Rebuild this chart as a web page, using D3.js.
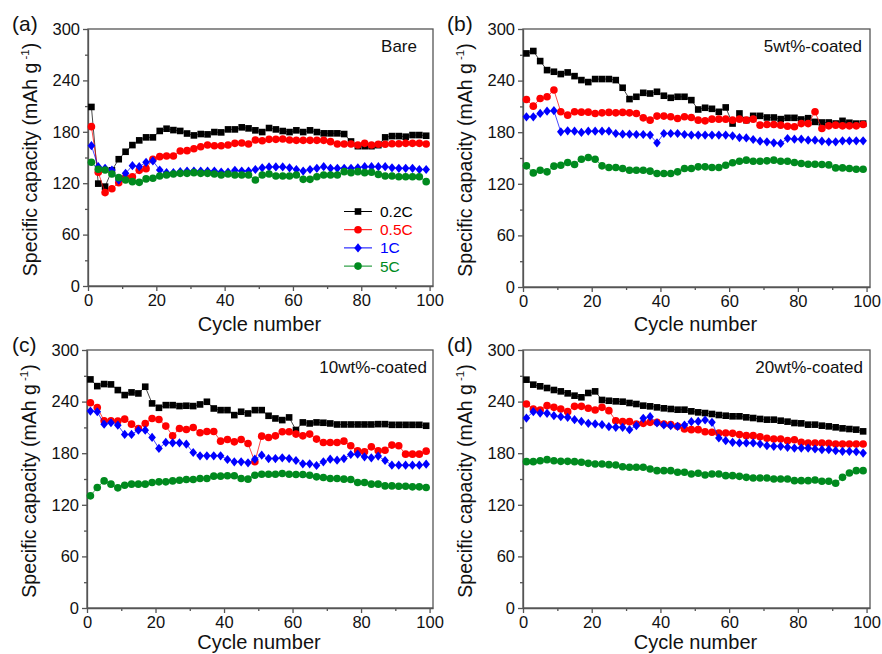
<!DOCTYPE html>
<html><head><meta charset="utf-8">
<script src="https://cdn.jsdelivr.net/npm/d3@7"></script>
<style>
html,body{margin:0;padding:0;background:#fff;}
svg{display:block;font-family:"Liberation Sans",Arial,sans-serif;}
</style></head>
<body><svg id="c" width="882" height="654"></svg>
<script>
// ---------- DATA (markers at odd cycles 1,3,...,99) ----------
const cycles = d3.range(1, 100, 2);
const seriesNames = ["0.2C", "0.5C", "1C", "5C"];
const seriesColors = ["#000000", "#ff0000", "#0000ff", "#008a1e"];
const seriesShapes = ["square", "circle", "diamond", "circle"];
const panelLetters = ["(a)", "(b)", "(c)", "(d)"];
const panelTitles = ["Bare", "5wt%-coated", "10wt%-coated", "20wt%-coated"];
const xTicks = [0, 20, 40, 60, 80, 100];
const yTicks = [0, 60, 120, 180, 240, 300];

const bare_02C = [209,119.5,116,135,148,156.7,164.5,170,173.5,173.5,181,183.6,182,181,178,175.8,177.4,177,179.7,179.3,182.8,182.8,185.2,184,181.7,179.7,184.4,182.8,180.9,179.7,181.7,179.7,181.7,179.7,178.2,178.2,178.2,177.4,168.7,163.2,163.2,163.2,164.4,173.5,175,175,174.3,176.2,176.2,175.4];
const bare_05C = [186,132.7,109,113.5,120.6,127,127.6,135,137,148,151,151.8,151.8,157.6,158,160.3,162.6,164.6,163.8,163.8,164.6,166.5,167,165.8,170.4,169.6,171.2,171.2,171.6,170.4,170,170,170,170,170,168.5,165.8,165.8,165.8,164.6,166.5,164.6,165.4,165.4,166,166,166.5,166.5,166.5,165.8];
const bare_1C = [163.8,139.3,137.4,135.4,123.7,131.5,140.5,139.3,144.4,146,135.4,132.3,132.3,133.5,134.2,134.2,134.2,134.2,134.2,133,133,135,134.2,134.2,136,138,139,139,139,138,136,134.2,136,137.4,139.3,137.4,137.4,137.4,137.4,138,139.3,139.3,139.3,139.3,138,137.4,137.4,137.4,136,136];
const bare_5C = [144.4,136.2,135.4,130.7,126.5,123.7,121.8,121,125,125.7,128.4,129.6,130.7,131.5,131.5,132.3,131.5,131.5,130.7,129.6,130.7,129.6,129.6,129.6,123.7,129.6,130.7,128.4,128.4,128.4,129.6,124.5,124.5,127.6,129.6,129.6,129.6,133.5,132.3,133.5,132.3,132.7,130.3,128.4,128.4,127.6,127.6,127.6,127.6,121.8];

const w5_02C = [271.6,274.4,262.7,252.2,250.3,247.6,249.5,245.2,240.6,238.3,241.8,241.8,241.8,240.6,231.7,218.5,221.2,225.8,225,227,222.4,220,221.2,221.2,217.3,206.4,208.4,207.2,203.7,208.8,190.1,201.8,194,199,199,197.1,197.1,195.2,196.7,196.7,194.8,196.3,192,191.3,191.3,190.1,193.2,191,190,190];
const w5_05C = [218,210.3,219.2,221.2,229,203.7,199.8,203.7,203.3,203.3,201.8,202.5,203,202.5,203,202.5,201.8,196.7,194,198.7,198.7,197.9,196,197.9,197.1,194,193.2,195.2,195.2,195.2,194,195.2,194,195.2,188.2,189,189,188.2,187,186.3,190,190,203.7,184.3,187.4,188.2,187.4,187.4,187.4,189];
const w5_1C = [197.9,197.9,201.8,204.5,205,180.4,181.6,181.2,179.7,181.2,181.2,181.2,181.2,178.5,177.7,177.7,177.3,177.3,176.6,167.6,178.5,178.5,178.5,177.3,176.6,176.6,176.6,176.6,176.6,176.6,175.8,173.8,173.4,171.5,169.6,168.8,167.6,166.9,172.7,171.9,171.9,170.7,170.7,169.6,168.8,168.8,170,170,170,170];
const w5_5C = [140.9,132.7,135.8,133.9,140.5,141.6,144.7,142.4,148.6,150.6,148.6,140.9,138.9,138.9,137.8,135.8,135.8,135.8,134.7,131.9,131.9,131.9,133.9,137.8,137.8,139.7,139.7,138.9,138.9,141.6,144.4,146.3,147.5,146.3,146.3,146.7,147.5,146.3,146.3,144.7,143.6,142.8,142.8,142.4,142,138.5,138.5,137.8,137,137];

const w10_02C = [265.8,258,260.4,260,253.4,247.6,250.7,249.5,257.3,237.9,232.8,235.9,235.9,234.8,235.2,234.8,236.7,239.8,232,230.1,230.1,224.3,228.2,226.2,230.1,230.1,223.5,220.4,218.5,221.6,207,215.8,214.6,215.8,215.4,214.6,213.4,213.4,213.4,213.4,213.4,213.4,213.8,213.8,213,213,213,213,213,211.9];
const w10_05C = [238.6,233.2,217.7,217.7,217.3,219.6,213.8,208.8,214.6,220.4,219.2,211.5,200.2,208.8,207.6,209.9,203.7,205.3,205.3,194,196,193.2,196,191.3,170,199.8,198.3,200.2,204.9,204.9,202.2,200.2,202.2,196.4,192.5,192.5,192.5,194,188.6,182.8,181.6,187.4,182.8,183.5,189.4,188.6,178.9,178.9,178.9,182.4];
const w10_1C = [229,228.2,213.8,215.4,212.6,201.8,201.8,206.8,206.8,198.3,185.5,192.5,192.1,192.1,190.5,180.8,177,177,177,177,172.7,170,170,168.8,173.1,177.7,173.8,173.8,174.6,173.8,171.5,167.6,167.6,165.7,170,173.1,171.9,173.8,178.5,178.9,175.8,174.6,176.6,171.5,166.1,166.1,166.1,166.1,166.1,167.2];
const w10_5C = [130.4,140.1,147.8,144,139.7,142.8,144,144,144,145.9,146.7,146.7,147.8,148.6,149.4,149.4,150.6,150.6,153.3,153.3,153.7,153.7,150.6,149.8,154.4,155.6,155.6,155.6,156.4,155.6,155.2,155.2,154.4,152.5,151.7,150.6,150.6,149.8,149.4,145.9,145.9,144,144,142,142,141.6,141.6,140.9,140.9,140.1];

const w20_02C = [265.5,259.7,257.8,255.8,253.5,251.9,249.6,246.9,245,250,251.9,241.9,241,240.3,239.9,238.4,237.2,235.3,234.5,233.3,232.2,231.4,230.6,230.6,228.7,227.5,226.7,225.6,224.4,223.6,222.9,222.9,221.7,220.9,219.8,219,219,217.8,216.7,215.1,214.7,213.2,213.2,212,211.2,210.1,208.9,208.1,207.4,205.4];
const w20_05C = [237.2,231.4,230.2,235.3,233.3,231.4,228.3,234.5,234.5,232.2,230.2,233.3,229.5,217.8,216.7,216.7,214,214.7,215.9,215.9,214,213.2,211.2,208.1,207.4,207.4,205,204.3,203.5,203.5,203.1,201.6,200.4,200.4,199.2,197.3,196.5,196.5,194.6,195.7,192.6,191.9,191.9,191.9,191.5,190.7,190.7,190.7,190.7,190.7];
const w20_1C = [220.9,228.3,226.7,226.4,223.6,222.5,221.7,219,217,214.7,214,213.2,210.9,210.1,210.1,207.4,212,220.5,222.5,215.1,212.8,212,211.2,212.8,216.7,217,218.6,215.9,197.7,194.6,192.6,191.9,191.9,191.9,190.7,188.8,188,188,186.8,186,186,186,184.9,184.1,184.1,182.9,182.2,182.2,181.8,180.2];
const w20_5C = [170.2,170.2,171.3,172.5,171.3,170.5,170.5,170.2,169.4,168.2,167.4,167.4,166.7,166.3,164.3,163.6,163.6,163.6,161.6,159.7,159.7,159.7,157.8,157.8,155.8,156.6,154.7,155.8,155.8,153.9,153.9,153.1,151.9,151.2,151.2,151.2,150,150,150,148.1,148.1,148.1,148.8,147.3,147.3,145,151.9,157,159.7,159.7];

const panelData = [
  [bare_02C, bare_05C, bare_1C, bare_5C],
  [w5_02C, w5_05C, w5_1C, w5_5C],
  [w10_02C, w10_05C, w10_1C, w10_5C],
  [w20_02C, w20_05C, w20_1C, w20_5C]
];

// ---------- LAYOUT ----------
const panels = [
  {x0: 88, x1: 433, y0: 29, y1: 286, titleX: 417, letterX: 12, xtY: 45},
  {x0: 523, x1: 870, y0: 29, y1: 287, titleX: 862, letterX: 447, xtY: 44},
  {x0: 87, x1: 433, y0: 350, y1: 608, titleX: 427, letterX: 12, xtY: 41},
  {x0: 523, x1: 870, y0: 350, y1: 608, titleX: 863, letterX: 447, xtY: 41}
];

const svg = d3.select("#c");
const axisColor = "#555";

function marker(sel, shape, color) {
  if (shape === "square") {
    sel.append("rect").attr("x", -3.3).attr("y", -3.3).attr("width", 6.6).attr("height", 6.6).attr("fill", color);
  } else if (shape === "circle") {
    sel.append("circle").attr("r", 3.8).attr("fill", color);
  } else {
    sel.append("path").attr("d", "M0,-4.6L3.8,0L0,4.6L-3.8,0Z").attr("fill", color);
  }
}

panels.forEach((p, pi) => {
  const x = d3.scaleLinear().domain([0, 101]).range([p.x0, p.x1]);
  const y = d3.scaleLinear().domain([0, 300]).range([p.y1, p.y0]);
  const g = svg.append("g");

  // frame
  g.append("rect").attr("x", p.x0).attr("y", p.y0).attr("width", p.x1 - p.x0).attr("height", p.y1 - p.y0)
    .attr("fill", "none").attr("stroke", axisColor).attr("stroke-width", 1.3);

  // x axis
  g.append("g").attr("transform", `translate(0,${p.y1})`)
    .call(d3.axisBottom(x).tickValues(xTicks).tickSize(5).tickSizeOuter(0).tickPadding(3).tickFormat(d3.format("d")));
  g.append("g").attr("transform", `translate(0,${p.y1})`)
    .call(d3.axisBottom(x).tickValues([10, 30, 50, 70, 90]).tickSize(3).tickSizeOuter(0).tickFormat(""))
    .call(s => s.select(".domain").remove());
  // y axis
  g.append("g").attr("transform", `translate(${p.x0},0)`)
    .call(d3.axisLeft(y).tickValues(yTicks).tickSize(5).tickSizeOuter(0).tickPadding(3).tickFormat(d3.format("d")));
  g.append("g").attr("transform", `translate(${p.x0},0)`)
    .call(d3.axisLeft(y).tickValues([30, 90, 150, 210, 270]).tickSize(3).tickSizeOuter(0).tickFormat(""))
    .call(s => s.select(".domain").remove());
  g.selectAll(".domain, .tick line").attr("stroke", axisColor).attr("stroke-width", 1.3);
  g.selectAll(".tick text").attr("font-size", 16.5).attr("fill", "#111")
    .attr("font-family", "'Liberation Sans', Arial, sans-serif");

  // axis titles
  g.append("text").attr("x", (p.x0 + p.x1) / 2 - 1).attr("y", p.y1 + p.xtY)
    .attr("text-anchor", "middle").attr("font-size", 20).attr("fill", "#111").text("Cycle number");
  const yl = g.append("text")
    .attr("transform", `translate(${p.x0 - 51},${(p.y0 + p.y1) / 2 + 2}) rotate(-90)`)
    .attr("text-anchor", "middle").attr("font-size", 19.5).attr("fill", "#111");
  yl.append("tspan").text("Specific capacity (mAh g");
  yl.append("tspan").attr("font-size", 11.5).attr("dy", -8).text(" -1");
  yl.append("tspan").attr("dy", 8).text(")");

  // panel letter & title
  g.append("text").attr("x", p.letterX).attr("y", p.y0 + 2).attr("font-size", 21).attr("fill", "#111").text(panelLetters[pi]);
  g.append("text").attr("x", p.titleX).attr("y", p.y0 + 23).attr("text-anchor", "end")
    .attr("font-size", 17).attr("fill", "#111").text(panelTitles[pi]);

  // series
  const line = d3.line().x((d, i) => x(cycles[i])).y(d => y(d));
  panelData[pi].forEach((vals, si) => {
    g.append("path").datum(vals).attr("d", line).attr("fill", "none")
      .attr("stroke", seriesColors[si]).attr("stroke-width", 0.9).attr("stroke-opacity", 0.8);
    const mg = g.append("g");
    vals.forEach((v, i) => {
      const m = mg.append("g").attr("transform", `translate(${x(cycles[i])},${y(v)})`);
      marker(m, seriesShapes[si], seriesColors[si]);
    });
  });

  // legend (panel a only)
  if (pi === 0) {
    const lg = g.append("g");
    seriesNames.forEach((name, si) => {
      const yy = 211.5 + si * 18.2;
      lg.append("line").attr("x1", 344).attr("x2", 372).attr("y1", yy).attr("y2", yy)
        .attr("stroke", seriesColors[si]).attr("stroke-width", 1);
      const m = lg.append("g").attr("transform", `translate(358,${yy})`);
      marker(m, seriesShapes[si], seriesColors[si]);
      lg.append("text").attr("x", 380).attr("y", yy + 5.5).attr("font-size", 15.5)
        .attr("fill", seriesColors[si]).text(name);
    });
  }
});
</script>
</body></html>
